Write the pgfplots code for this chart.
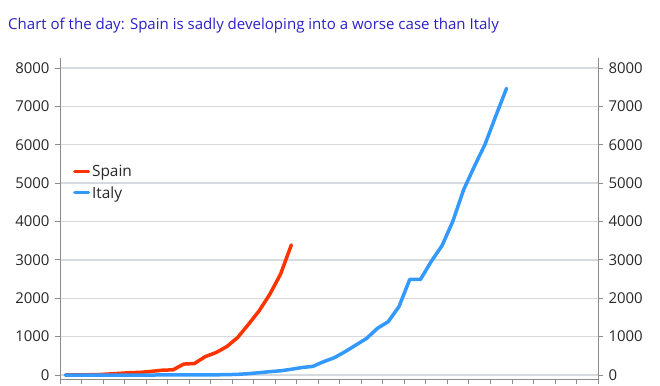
\documentclass[border=0pt]{standalone}
\usepackage{fontspec}
\setmainfont{Open Sans}
\usepackage{pgfplots}
\pgfplotsset{compat=1.18}
\definecolor{spain}{RGB}{255,51,0}
\definecolor{italy}{RGB}{51,153,255}
\definecolor{titleblue}{RGB}{43,31,200}
\definecolor{gridc}{RGB}{214,218,222}
\definecolor{axc}{RGB}{140,140,140}
\definecolor{txt}{RGB}{40,40,40}
\begin{document}
\begin{tikzpicture}[x=1bp,y=1bp]
\useasboundingbox (0,0) rectangle (660,385);
\node[anchor=base west, inner sep=0pt, text=titleblue, font=\fontsize{15.1}{15}\selectfont] at (8,356) {Chart of the day: Spain is sadly developing into a worse case than Italy};
\begin{axis}[
  at={(60bp,6bp)}, anchor=south west,
  scale only axis, width=538bp, height=321bp,
  xmin=-0.5, xmax=49.5, ymin=-104, ymax=8260,
  axis x line*=bottom, axis y line*=left,
  axis line style={draw=axc, line width=1bp},
  xtick={-0.5,1.5,...,49.5}, xticklabels={},
  ytick={0,1000,...,8000},
  tick align=outside, major tick length=5bp,
  tick style={draw=axc, line width=0.8bp},
  ymajorgrids, major grid style={draw=gridc, line width=1.4bp},
  /pgf/number format/assume math mode=true,
  /pgf/number format/1000 sep={},
  yticklabel style={font=\fontsize{15}{15}\selectfont, text=txt, xshift=-2bp},
  legend style={at={(0.022,0.675)}, anchor=north west, draw=none, fill=none,
    font=\fontsize{15.5}{15.5}\selectfont, text=txt, row sep=4bp, inner sep=1bp},
  legend cell align=left,
  legend image code/.code={\draw[#1, line width=3bp] (0bp,0bp) -- (14bp,0bp);},
  every axis plot/.append style={line width=3.5bp, line join=round, line cap=round},
]
\addplot[color=spain, mark=none] coordinates {
(0,0)(1,3)(2,6)(3,10)(4,25)(5,43)(6,60)(7,70)(8,95)(9,125)(10,135)
(11,285)(12,300)(13,480)(14,585)(15,740)(16,975)(17,1315)(18,1670)
(19,2105)(20,2630)(21,3390)};
\addlegendentry{Spain}
\addplot[color=italy, mark=none] coordinates {
(0,0)(1,0)(2,0)(3,0)(4,0)(5,0)(6,0)(7,0)(8,0)(9,1)(10,2)(11,2)(12,3)(13,3)
(14,5)(15,10)(16,17)(17,35)(18,60)(19,87)(20,110)(21,150)(22,195)(23,225)
(24,347)(25,452)(26,608)(27,782)(28,955)(29,1216)(30,1390)(31,1781)
(32,2490)(33,2490)(34,2960)(35,3370)(36,4000)(37,4820)(38,5430)
(39,6010)(40,6750)(41,7470)};
\addlegendentry{Italy}
\end{axis}
\begin{axis}[
  at={(60bp,6bp)}, anchor=south west,
  scale only axis, width=538bp, height=321bp,
  xmin=-0.5, xmax=49.5, ymin=-104, ymax=8260,
  axis x line=none, axis y line*=right,
  axis line style={draw=axc, line width=1bp},
  ytick={0,1000,...,8000},
  tick align=outside, major tick length=5bp,
  tick style={draw=axc, line width=0.8bp},
  /pgf/number format/assume math mode=true,
  /pgf/number format/1000 sep={},
  yticklabel style={font=\fontsize{15}{15}\selectfont, text=txt, xshift=2bp},
]
\addplot[draw=none, forget plot] coordinates {(0,0)};
\end{axis}
\end{tikzpicture}
\end{document}
